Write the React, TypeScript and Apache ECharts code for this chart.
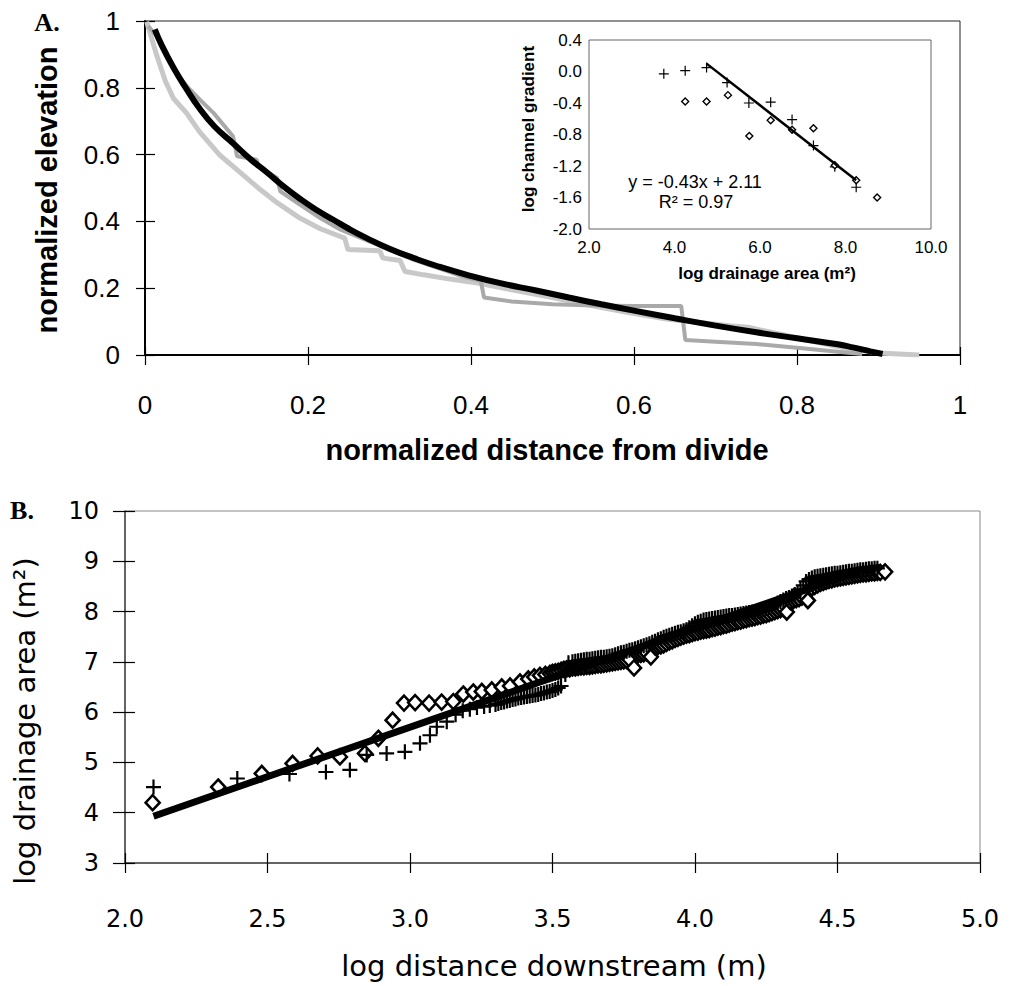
import React, { useEffect, useRef } from "react";
import * as echarts from "echarts";

// ---------------- Panel A: normalized long profiles ----------------
const A_X_LABELS = ["0", "0.2", "0.4", "0.6", "0.8", "1"];
const A_Y_LABELS = ["0", "0.2", "0.4", "0.6", "0.8", "1"];

// smooth model profile (black)
const aModel: number[][] = [
  [0.012, 0.975], [0.02, 0.93], [0.035, 0.86], [0.05, 0.8], [0.067, 0.738], [0.085, 0.685],
  [0.108, 0.634], [0.13, 0.585], [0.149, 0.548], [0.17, 0.505], [0.19, 0.468], [0.21, 0.435],
  [0.231, 0.405], [0.25, 0.378], [0.272, 0.35], [0.3, 0.318], [0.33, 0.29], [0.36, 0.265],
  [0.395, 0.24], [0.436, 0.215], [0.48, 0.193], [0.52, 0.172], [0.56, 0.152], [0.6, 0.133],
  [0.65, 0.11], [0.7, 0.088], [0.75, 0.068], [0.8, 0.05], [0.85, 0.032], [0.87, 0.022],
  [0.89, 0.011], [0.905, 0.003],
];

// observed profile 1 (light grey)
const aProfileLight: number[][] = [
  [0.002, 0.998], [0.014, 0.9], [0.025, 0.82], [0.035, 0.768], [0.051, 0.724], [0.067, 0.668],
  [0.092, 0.598], [0.117, 0.546], [0.141, 0.496], [0.162, 0.456], [0.19, 0.41], [0.215, 0.378],
  [0.245, 0.35], [0.249, 0.316], [0.288, 0.312], [0.292, 0.29], [0.313, 0.283], [0.319, 0.25],
  [0.342, 0.24], [0.372, 0.228], [0.41, 0.215], [0.45, 0.195], [0.5, 0.172], [0.56, 0.142],
  [0.6, 0.124], [0.64, 0.108], [0.68, 0.097], [0.72, 0.087], [0.74, 0.083],
  [0.78, 0.062], [0.82, 0.04], [0.86, 0.02], [0.9, 0.006], [0.95, 0.0],
];

// observed profile 2 (darker grey, stepped)
const aProfileDark: number[][] = [
  [0.004, 0.985], [0.018, 0.943], [0.031, 0.878], [0.043, 0.83], [0.055, 0.795], [0.067, 0.765],
  [0.084, 0.725], [0.108, 0.655], [0.113, 0.595], [0.137, 0.585], [0.139, 0.565], [0.162, 0.53],
  [0.166, 0.49], [0.19, 0.45], [0.215, 0.41], [0.24, 0.375], [0.27, 0.345], [0.3, 0.315],
  [0.33, 0.285], [0.36, 0.26], [0.39, 0.235], [0.412, 0.222], [0.416, 0.172], [0.45, 0.16],
  [0.5, 0.152], [0.55, 0.148], [0.6, 0.147], [0.658, 0.147], [0.663, 0.045], [0.7, 0.04],
  [0.75, 0.033], [0.8, 0.022], [0.85, 0.01], [0.88, 0.003],
];

// ---------------- Inset: slope-area ----------------
const INSET_X_LABELS = ["2.0", "4.0", "6.0", "8.0", "10.0"];
const INSET_Y_LABELS = ["-2.0", "-1.6", "-1.2", "-0.8", "-0.4", "0.0", "0.4"];
const insetCrossX = [3.75, 4.25, 4.75, 5.23, 5.74, 6.25, 6.75, 7.25, 7.75, 8.25];
const insetCrossY = [-0.03, 0.01, 0.05, -0.14, -0.4, -0.39, -0.61, -0.94, -1.21, -1.47];
const insetDiamondX = [4.25, 4.75, 5.25, 5.75, 6.25, 6.75, 7.25, 7.75, 8.25, 8.74];
const insetDiamondY = [-0.38, -0.38, -0.3, -0.82, -0.62, -0.74, -0.72, -1.19, -1.38, -1.6];
const insetTrendX = [4.75, 8.25];
const insetTrendY = [0.1, -1.38];
const insetEquation = "y = -0.43x + 2.11";
const insetR2 = "R² = 0.97";

// ---------------- Panel B: Hack's law ----------------
const B_X_LABELS = ["2.0", "2.5", "3.0", "3.5", "4.0", "4.5", "5.0"];
const B_Y_LABELS = ["3", "4", "5", "6", "7", "8", "9", "10"];

const bDiamonds: number[][] = [
  [2.097, 4.2], [2.327, 4.51], [2.48, 4.78], [2.588, 4.98], [2.676, 5.13], [2.754, 5.11],
  [2.842, 5.18], [2.889, 5.48], [2.939, 5.84], [2.979, 6.18], [3.018, 6.19], [3.067, 6.18],
  [3.111, 6.2], [3.152, 6.21], [3.187, 6.36], [3.222, 6.4], [3.252, 6.41], [3.287, 6.44],
  [3.322, 6.5], [3.351, 6.52], [3.386, 6.6], [3.415, 6.66], [3.436, 6.7], [3.456, 6.73],
  [3.475, 6.75], [3.491, 6.77],
  [3.5, 6.79], [3.51, 6.8], [3.52, 6.81], [3.53, 6.83], [3.54, 6.85], [3.55, 6.86], [3.56, 6.86],
  [3.57, 6.88], [3.58, 6.88], [3.59, 6.89], [3.6, 6.9], [3.61, 6.9], [3.62, 6.91], [3.63, 6.91],
  [3.64, 6.92], [3.65, 6.93], [3.66, 6.94], [3.67, 6.94], [3.68, 6.95], [3.69, 6.96], [3.7, 6.97],
  [3.71, 6.98], [3.72, 6.99], [3.73, 7.0], [3.74, 7.01], [3.75, 7.02], [3.76, 7.03], [3.77, 7.05],
  [3.786, 6.88], [3.8, 7.14], [3.81, 7.15], [3.82, 7.16], [3.83, 7.18], [3.845, 7.1], [3.86, 7.3],
  [3.87, 7.31], [3.88, 7.32], [3.89, 7.34], [3.9, 7.37], [3.91, 7.4], [3.92, 7.42], [3.93, 7.45],
  [3.94, 7.47], [3.95, 7.49], [3.96, 7.51], [3.97, 7.53], [3.98, 7.54], [3.99, 7.56], [4.0, 7.58],
  [4.01, 7.59], [4.02, 7.61], [4.03, 7.62], [4.04, 7.63], [4.05, 7.64], [4.06, 7.66], [4.07, 7.67],
  [4.08, 7.69], [4.09, 7.7], [4.1, 7.72], [4.11, 7.73], [4.12, 7.75], [4.13, 7.77], [4.14, 7.78],
  [4.15, 7.8], [4.16, 7.81], [4.17, 7.83], [4.18, 7.84], [4.19, 7.86], [4.2, 7.87], [4.21, 7.88],
  [4.22, 7.9], [4.23, 7.91], [4.24, 7.93], [4.25, 7.94], [4.26, 7.96], [4.27, 7.98], [4.28, 8.0],
  [4.29, 8.02], [4.3, 8.04], [4.31, 8.06], [4.322, 7.99], [4.335, 8.2], [4.345, 8.22], [4.355, 8.24],
  [4.365, 8.26], [4.375, 8.29], [4.385, 8.32], [4.396, 8.22], [4.41, 8.47], [4.42, 8.5], [4.43, 8.53],
  [4.44, 8.56], [4.45, 8.58], [4.46, 8.6], [4.47, 8.62], [4.48, 8.63], [4.49, 8.65], [4.5, 8.66],
  [4.51, 8.67], [4.52, 8.68], [4.53, 8.69], [4.54, 8.7], [4.55, 8.71], [4.56, 8.72], [4.57, 8.73],
  [4.58, 8.74], [4.59, 8.75], [4.6, 8.75], [4.61, 8.76], [4.62, 8.77], [4.63, 8.77], [4.64, 8.78],
  [4.65, 8.78], [4.667, 8.79],
];

const bCrosses: number[][] = [
  [2.1, 4.51], [2.394, 4.68], [2.577, 4.77], [2.705, 4.81], [2.789, 4.85], [2.848, 5.15],
  [2.918, 5.18], [2.982, 5.21], [3.035, 5.38], [3.07, 5.54], [3.094, 5.71], [3.129, 5.81],
  [3.16, 5.95], [3.185, 6.03], [3.21, 6.06], [3.235, 6.09], [3.26, 6.11], [3.28, 6.13],
  [3.3, 6.15], [3.31, 6.17], [3.32, 6.19], [3.33, 6.2], [3.34, 6.22], [3.35, 6.23], [3.36, 6.25],
  [3.37, 6.26], [3.38, 6.28], [3.39, 6.29], [3.4, 6.3], [3.41, 6.31], [3.42, 6.32], [3.43, 6.33],
  [3.44, 6.34], [3.45, 6.35], [3.46, 6.37], [3.47, 6.38], [3.48, 6.4], [3.49, 6.41], [3.5, 6.43],
  [3.51, 6.45], [3.52, 6.48], [3.53, 6.52], [3.545, 6.75], [3.556, 6.98], [3.57, 7.0], [3.58, 7.01],
  [3.59, 7.02], [3.6, 7.03], [3.61, 7.04], [3.62, 7.05], [3.63, 7.05], [3.64, 7.06], [3.65, 7.07],
  [3.66, 7.08], [3.67, 7.09], [3.68, 7.09], [3.69, 7.1], [3.7, 7.11], [3.71, 7.12], [3.72, 7.14],
  [3.73, 7.16], [3.74, 7.18], [3.75, 7.19], [3.76, 7.21], [3.77, 7.23], [3.78, 7.24], [3.79, 7.26],
  [3.8, 7.28], [3.81, 7.3], [3.82, 7.32], [3.83, 7.34], [3.84, 7.36], [3.85, 7.39], [3.86, 7.41],
  [3.87, 7.44], [3.88, 7.46], [3.89, 7.49], [3.9, 7.51], [3.91, 7.53], [3.92, 7.55], [3.93, 7.57],
  [3.94, 7.59], [3.95, 7.6], [3.96, 7.62], [3.97, 7.64], [3.98, 7.68], [3.99, 7.72], [4.0, 7.76],
  [4.01, 7.79], [4.02, 7.81], [4.03, 7.83], [4.04, 7.84], [4.05, 7.85], [4.06, 7.86], [4.07, 7.87],
  [4.08, 7.88], [4.09, 7.89], [4.1, 7.9], [4.11, 7.91], [4.12, 7.92], [4.13, 7.92], [4.14, 7.93],
  [4.15, 7.94], [4.16, 7.95], [4.17, 7.96], [4.18, 7.97], [4.19, 7.98], [4.2, 7.99], [4.21, 8.0],
  [4.22, 8.01], [4.23, 8.02], [4.24, 8.04], [4.25, 8.06], [4.26, 8.08], [4.27, 8.11], [4.28, 8.14],
  [4.29, 8.17], [4.3, 8.2], [4.31, 8.23], [4.32, 8.26], [4.33, 8.28], [4.34, 8.31], [4.35, 8.34],
  [4.36, 8.38], [4.37, 8.44], [4.38, 8.52], [4.39, 8.6], [4.4, 8.64], [4.41, 8.67], [4.42, 8.69],
  [4.43, 8.7], [4.44, 8.71], [4.45, 8.72], [4.46, 8.73], [4.47, 8.74], [4.48, 8.75], [4.49, 8.76],
  [4.5, 8.76], [4.51, 8.77], [4.52, 8.78], [4.53, 8.79], [4.54, 8.8], [4.55, 8.8], [4.56, 8.81],
  [4.57, 8.82], [4.58, 8.83], [4.59, 8.83], [4.6, 8.84], [4.61, 8.85], [4.62, 8.85], [4.63, 8.86],
  [4.64, 8.86],
];

const bFitX = [2.1, 4.6];
const bFitY = [3.93, 8.85];

// ---------------- styling ----------------
const SANS = '"Liberation Sans", Arial, Helvetica, sans-serif';
const DEJA = '"DejaVu Sans", "Open Sans", sans-serif';
const SERIF = '"Liberation Serif", "Times New Roman", serif';
const CROSS = "path://M0 7 L14 7 M7 0 L7 14";

function tickPair(
  kind: "x" | "y",
  gridIndex: number,
  min: number,
  max: number,
  interval: number,
  outLen: number,
  inLen: number,
  label: any,
  lineColor: string,
  lineWidth: number
) {
  const main: any = {
    type: "value",
    gridIndex,
    min,
    max,
    interval,
    position: kind === "x" ? "bottom" : "left",
    axisLine: { show: true, onZero: false, lineStyle: { color: lineColor, width: lineWidth } },
    axisTick: { show: true, inside: false, length: outLen, lineStyle: { color: "#000", width: 1.2 } },
    axisLabel: label,
    splitLine: { show: false },
  };
  const inner: any = {
    type: "value",
    gridIndex,
    min,
    max,
    interval,
    position: kind === "x" ? "bottom" : "left",
    axisLine: { show: false, onZero: false },
    axisTick: { show: true, inside: true, length: inLen, lineStyle: { color: "#000", width: 1.2 } },
    axisLabel: { show: false },
    splitLine: { show: false },
  };
  return [main, inner];
}

function buildOption(): any {
  const [axX0, axX1] = tickPair("x", 0, 0, 1, 0.2, 10, 8, {
    margin: 37, fontSize: 26, fontFamily: SANS, color: "#000",
    formatter: (v: number) => A_X_LABELS[Math.round(v / 0.2)],
  }, "#000", 2);
  const [axY0, axY1] = tickPair("y", 0, 0, 1, 0.2, 9, 10, {
    margin: 25, fontSize: 26, fontFamily: SANS, color: "#000",
    formatter: (v: number) => A_Y_LABELS[Math.round(v / 0.2)],
  }, "#000", 2);
  const [bx0, bx1] = tickPair("x", 2, 2, 5, 0.5, 10, 10, {
    margin: 44, fontSize: 24, fontFamily: DEJA, color: "#000",
    formatter: (v: number) => B_X_LABELS[Math.round((v - 2) / 0.5)],
  }, "#444", 1.5);
  const [by0, by1] = tickPair("y", 2, 3, 10, 1, 12, 10, {
    margin: 26, fontSize: 24, fontFamily: DEJA, color: "#000",
    formatter: (v: number) => B_Y_LABELS[Math.round(v - 3)],
  }, "#444", 1.5);

  const insetX: any = {
    type: "value", gridIndex: 1, min: 2, max: 10, interval: 2, position: "bottom",
    axisLine: { show: false, onZero: false }, axisTick: { show: false }, splitLine: { show: false },
    axisLabel: {
      margin: 10, fontSize: 17, fontFamily: SANS, color: "#000",
      formatter: (v: number) => INSET_X_LABELS[Math.round((v - 2) / 2)],
    },
  };
  const insetY: any = {
    type: "value", gridIndex: 1, min: -2, max: 0.4, interval: 0.4, position: "left",
    axisLine: { show: false, onZero: false }, axisTick: { show: false }, splitLine: { show: false },
    axisLabel: {
      margin: 7, fontSize: 17, fontFamily: SANS, color: "#000",
      formatter: (v: number) => INSET_Y_LABELS[Math.round((v + 2) / 0.4)],
    },
  };

  const text = (t: string, x: number, y: number, size: number, family: string, weight: string, rot = 0) => ({
    type: "text",
    x,
    y,
    rotation: rot,
    z: 100,
    style: {
      text: t,
      fontSize: size,
      fontFamily: family,
      fontWeight: weight,
      fill: "#000",
      align: "center",
      verticalAlign: "middle",
    },
  });

  return {
    animation: false,
    backgroundColor: "#fff",
    grid: [
      { left: 145, top: 21, width: 815, height: 334, show: true, borderColor: "#222", borderWidth: 1, backgroundColor: "transparent" },
      { left: 589, top: 40, width: 342, height: 189, show: true, borderColor: "#666", borderWidth: 1, backgroundColor: "transparent" },
      { left: 125, top: 511, width: 855, height: 352, show: true, borderColor: "#888", borderWidth: 1, backgroundColor: "transparent" },
    ],
    xAxis: [axX0, axX1, insetX, bx0, bx1],
    yAxis: [axY0, axY1, insetY, by0, by1],
    series: [
      {
        type: "line", xAxisIndex: 0, yAxisIndex: 0, data: aProfileLight, showSymbol: false, z: 2,
        lineStyle: { color: "#c8c8c8", width: 5 }, silent: true,
      },
      {
        type: "line", xAxisIndex: 0, yAxisIndex: 0, data: aProfileDark, showSymbol: false, z: 2,
        lineStyle: { color: "#a9a9a9", width: 4 }, silent: true,
      },
      {
        type: "line", xAxisIndex: 0, yAxisIndex: 0, data: aModel, showSymbol: false, smooth: true, z: 3,
        lineStyle: { color: "#000", width: 6 }, silent: true,
      },
      {
        type: "scatter", xAxisIndex: 2, yAxisIndex: 2, symbol: CROSS, symbolSize: 10, z: 4,
        data: insetCrossX.map((x, i) => [x, insetCrossY[i]]),
        itemStyle: { color: "rgba(0,0,0,0)", borderColor: "#000", borderWidth: 1.2, opacity: 1 },
      },
      {
        type: "scatter", xAxisIndex: 2, yAxisIndex: 2, symbol: "diamond", symbolSize: 7, z: 4,
        data: insetDiamondX.map((x, i) => [x, insetDiamondY[i]]),
        itemStyle: { color: "#fff", borderColor: "#000", borderWidth: 1.4, opacity: 1 },
      },
      {
        type: "line", xAxisIndex: 2, yAxisIndex: 2, showSymbol: false, z: 5,
        data: insetTrendX.map((x, i) => [x, insetTrendY[i]]),
        lineStyle: { color: "#000", width: 2.5 },
      },
      {
        type: "scatter", xAxisIndex: 3, yAxisIndex: 3, symbol: "diamond", symbolSize: [14, 15], z: 4,
        data: bDiamonds,
        itemStyle: { color: "#fff", borderColor: "#000", borderWidth: 2.6, opacity: 1 },
      },
      {
        type: "scatter", xAxisIndex: 3, yAxisIndex: 3, symbol: CROSS, symbolSize: 15, z: 5,
        data: bCrosses,
        itemStyle: { color: "rgba(0,0,0,0)", borderColor: "#000", borderWidth: 2.2, opacity: 1 },
      },
      {
        type: "line", xAxisIndex: 3, yAxisIndex: 3, showSymbol: false, z: 6,
        data: bFitX.map((x, i) => [x, bFitY[i]]),
        lineStyle: { color: "#000", width: 7 },
      },
    ],
    graphic: [
      text("A.", 47, 22, 26, SERIF, "bold"),
      text("B.", 22, 510, 26, SERIF, "bold"),
      text("normalized elevation", 47, 190, 29, SANS, "bold", Math.PI / 2),
      text("normalized distance from divide", 547, 450, 29, SANS, "bold"),
      text("log channel gradient", 528, 129, 17, SANS, "bold", Math.PI / 2),
      text("log drainage area (m²)", 767, 273, 17, SANS, "bold"),
      text(insetEquation, 695, 182, 18, SANS, "normal"),
      text(insetR2, 696, 202, 18, SANS, "normal"),
      text("log drainage area (m²)", 25, 721, 29, DEJA, "normal", Math.PI / 2),
      text("log distance downstream (m)", 554, 966, 29, DEJA, "normal"),
    ],
  };
}

export default function App() {
  const ref = useRef<HTMLDivElement>(null);
  useEffect(() => {
    if (!ref.current) return;
    const chart = echarts.init(ref.current, null, { renderer: "svg", width: 1013, height: 986 });
    chart.setOption(buildOption());
    return () => chart.dispose();
  }, []);
  return (
    <div
      ref={ref}
      style={{ position: "absolute", left: 0, top: 0, width: 1013, height: 986, background: "#fff" }}
    />
  );
}
